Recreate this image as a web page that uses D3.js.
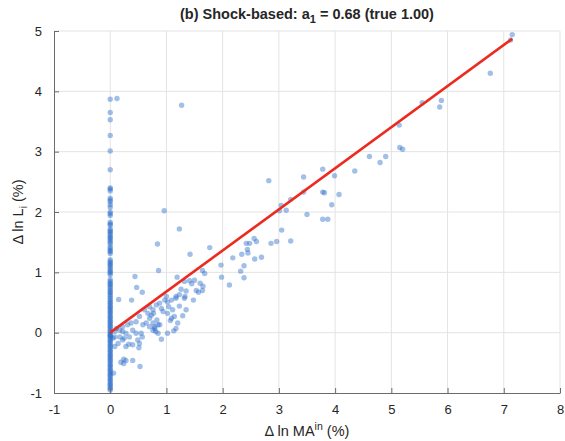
<!DOCTYPE html>
<html>
<head>
<meta charset="utf-8">
<script src="https://cdn.jsdelivr.net/npm/d3@7"></script>
<style>
  body { margin: 0; background: #fff; }
  svg text { font-family: "Liberation Sans", Arial, Helvetica, sans-serif; fill: #262626; }
</style>
</head>
<body>
<svg id="chart"></svg>
<script>
"use strict";

/* values */
// observations with zero shock (x = 0)
let zeroShockY = [3.87, 3.65, 3.53, 3.27, 3.01, 2.70, 2.40, 2.38, 2.35, 2.23,
  2.20, 2.17, 2.12, 2.08, 2.00, 1.97, 1.94, 1.83, 1.80, 1.78, 1.72, 1.69, 1.67,
  1.64, 1.61, 1.58, 1.56, 1.53, 1.50, 1.47, 1.42, 1.39, 1.36, 1.34, 1.31, 1.21,
  1.18, 1.15, 1.13, 1.10, 1.07, 1.04, 1.01, 0.99, 0.96, 0.88, 0.85, 0.82, 0.80,
  0.77, 0.74, 0.71, 0.68, 0.66, 0.63, 0.60, 0.57, 0.54, 0.51, 0.49, 0.46, 0.43,
  0.41, 0.38, 0.35, 0.33, 0.30, 0.27, 0.25, 0.22, 0.19, 0.17, 0.14, 0.11, 0.09,
  0.06, 0.03, 0.01, -0.02, -0.04, -0.05, -0.07, -0.10, -0.13, -0.15, -0.18,
  -0.21, -0.23, -0.26, -0.29, -0.31, -0.34, -0.37, -0.39, -0.42, -0.45, -0.47,
  -0.50, -0.53, -0.55, -0.58, -0.61, -0.63, -0.66, -0.69, -0.71, -0.74, -0.77,
  -0.79, -0.82, -0.85, -0.87, -0.90, -0.93, -0.95];

// observations with a positive shock
let shockX = [7.15, 7.12, 6.76, 5.89, 5.86, 5.55, 5.14, 5.15, 5.20, 4.61, 4.80,
  4.90, 4.35, 3.78, 3.99, 3.44, 3.44, 3.78, 3.81, 4.07, 3.94, 3.50, 3.78, 3.87,
  3.04, 3.13, 3.01, 3.21, 3.05, 3.21, 2.96, 2.86, 2.56, 2.60, 2.42, 2.48, 2.44,
  2.45, 2.34, 2.69, 2.57, 2.18, 2.38, 2.32, 2.38, 2.12, 1.97, 1.98, 1.77, 1.42,
  1.23, 1.68, 1.64, 1.50, 1.41, 1.32, 1.60, 1.45, 1.65, 1.53, 1.57, 1.64, 1.26,
  1.35, 1.33, 1.48, 1.23, 1.23, 1.29, 0.96, 2.82, 0.84, 0.86, 0.44, 0.47, 0.57,
  0.15, 0.38, 1.19, 0.12, 1.27, 0.70, 0.76, 0.82, 0.88, 0.97, 1.02, 1.09, 1.00,
  1.04, 1.11, 1.02, 1.09, 1.14, 1.17, 1.07, 0.88, 0.79, 0.83, 0.76, 0.81, 0.91,
  1.02, 1.13, 0.73, 0.77, 0.61, 0.67, 0.70, 0.52, 0.46, 0.37, 0.31, 0.22, 0.17,
  0.11, 0.08, 0.22, 0.28, 0.40, 0.46, 0.55, 0.34, 0.17, 0.22, 0.25, 0.05, 0.14,
  0.08, 0.49, 0.52, 0.51, 0.40, 0.28, 0.33, 0.57, 0.76, 0.85, 0.79, 0.70, 0.64,
  0.58, 0.85, 0.91, 0.94, 1.20, 1.17, 1.35, 1.32, 1.17, 0.24, 0.28, 0.40, 0.19,
  0.24, 0.53, 0.06, 0.08];
let shockY = [4.94, 4.85, 4.30, 3.85, 3.74, 3.81, 3.44, 3.07, 3.04, 2.92, 2.82,
  2.92, 2.68, 2.71, 2.60, 2.58, 2.33, 2.33, 2.32, 2.29, 2.12, 1.96, 1.88, 1.88,
  2.11, 2.03, 2.02, 2.21, 1.70, 1.52, 1.51, 1.48, 1.56, 1.51, 1.48, 1.48, 1.38,
  1.32, 1.30, 1.25, 1.22, 1.24, 1.11, 1.02, 0.91, 0.79, 1.12, 0.92, 1.41, 1.30,
  1.72, 0.98, 1.03, 0.87, 0.86, 0.85, 0.82, 0.81, 0.77, 0.70, 0.67, 0.70, 0.72,
  0.69, 0.60, 0.54, 0.63, 0.44, 0.28, 2.02, 2.52, 1.47, 1.03, 0.93, 0.75, 0.67,
  0.55, 0.54, 0.92, 3.88, 3.77, 0.43, 0.38, 0.46, 0.49, 0.54, 0.51, 0.54, 0.60,
  0.43, 0.38, 0.32, 0.24, 0.27, 0.57, 0.20, 0.13, 0.10, 0.21, 0.04, 0.02, -0.11,
  -0.01, 0.03, 0.29, 0.32, 0.38, 0.32, 0.24, 0.27, 0.18, 0.16, 0.13, 0.10, 0.04,
  0.07, 0.02, 0.02, -0.01, 0.04, -0.01, -0.01, -0.07, -0.07, -0.12, -0.09, -0.09,
  -0.18, -0.23, -0.12, -0.18, -0.25, -0.20, -0.23, -0.19, -0.07, 0.16, 0.13,
  0.07, 0.10, 0.16, 0.13, -0.01, 0.40, 0.35, 0.16, 0.07, 0.38, 0.57, 0.60, -0.44,
  -0.46, -0.46, -0.49, -0.51, -0.56, -0.67, -0.07];

// fitted line, slope 0.68
let fitX = [0, 7.15];
let fitY = [0, 4.87];

let xTicks = [-1, 0, 1, 2, 3, 4, 5, 6, 7, 8];
let yTicks = [-1, 0, 1, 2, 3, 4, 5];

/* layout */
let width = 565, height = 441;
let margin = {left: 54, right: 5, top: 31, bottom: 48};

let svg = d3.select('svg#chart')
  .attr('width', width)
  .attr('height', height);

let xScale = d3.scaleLinear()
  .domain([-1, 8])
  .range([margin.left, width - margin.right]);
let yScale = d3.scaleLinear()
  .domain([-1, 5])
  .range([height - margin.bottom, margin.top]);

/* grid */
svg.append('g')
  .selectAll('line')
  .data(xTicks.slice(1))
  .enter()
  .append('line')
  .attr('x1', d => xScale(d)).attr('x2', d => xScale(d))
  .attr('y1', yScale(-1)).attr('y2', yScale(5))
  .attr('stroke', '#e3e3e3');
svg.append('g')
  .selectAll('line')
  .data(yTicks.slice(1))
  .enter()
  .append('line')
  .attr('x1', xScale(-1)).attr('x2', xScale(8))
  .attr('y1', d => yScale(d)).attr('y2', d => yScale(d))
  .attr('stroke', '#e3e3e3');

/* scatter */
let points = zeroShockY.map(y => ({x: 0, y: y}))
  .concat(shockX.map((x, i) => ({x: x, y: shockY[i]})));

svg.append('g')
  .selectAll('circle')
  .data(points)
  .enter()
  .append('circle')
  .attr('cx', d => xScale(d.x))
  .attr('cy', d => yScale(d.y))
  .attr('r', 2.7)
  .attr('fill', '#2266c8')
  .attr('fill-opacity', 0.42);

/* fitted line */
svg.append('path')
  .datum(fitX.map((x, i) => [x, fitY[i]]))
  .attr('d', d3.line().x(d => xScale(d[0])).y(d => yScale(d[1])))
  .attr('fill', 'none')
  .attr('stroke', '#ec2a1f')
  .attr('stroke-width', 2.6);

/* axes (ticks inside, no box) */
let tickFmt = d => String(d);
let xAxis = svg.append('g')
  .attr('transform', `translate(0, ${yScale(-1)})`)
  .call(d3.axisBottom(xScale).tickValues(xTicks).tickFormat(tickFmt)
    .tickSizeInner(-5).tickSizeOuter(0).tickPadding(12));
let yAxis = svg.append('g')
  .attr('transform', `translate(${xScale(-1)}, 0)`)
  .call(d3.axisLeft(yScale).tickValues(yTicks).tickFormat(tickFmt)
    .tickSizeInner(-5).tickSizeOuter(0).tickPadding(12));

[xAxis, yAxis].forEach(a => {
  a.select('.domain').attr('stroke', '#6b6b6b');
  a.selectAll('.tick line').attr('stroke', '#6b6b6b');
  a.selectAll('.tick text')
    .style('font-size', '13px')
    .attr('fill', '#262626');
});

/* labels */
let title = svg.append('text')
  .attr('text-anchor', 'middle')
  .attr('x', (xScale(-1) + xScale(8)) / 2)
  .attr('y', 19)
  .style('font-size', '14.5px')
  .style('font-weight', 'bold');
title.append('tspan').text('(b) Shock-based: a');
title.append('tspan').attr('dy', 4).style('font-size', '11px').text('1');
title.append('tspan').attr('dy', -4).text(' = 0.68 (true 1.00)');

let xLabel = svg.append('text')
  .attr('text-anchor', 'middle')
  .attr('x', (xScale(-1) + xScale(8)) / 2)
  .attr('y', 436)
  .style('font-size', '14.5px');
xLabel.append('tspan').text('\u0394 ln MA');
xLabel.append('tspan').attr('dy', -6).style('font-size', '10.5px').text('in');
xLabel.append('tspan').attr('dy', 6).text(' (%)');

let yLabel = svg.append('text')
  .attr('text-anchor', 'middle')
  .attr('transform', `translate(23, ${(yScale(-1) + yScale(5)) / 2}) rotate(-90)`)
  .style('font-size', '14.5px');
yLabel.append('tspan').text('\u0394 ln L');
yLabel.append('tspan').attr('dy', 4).style('font-size', '10.5px').text('i');
yLabel.append('tspan').attr('dy', -4).text(' (%)');
</script>
</body>
</html>
